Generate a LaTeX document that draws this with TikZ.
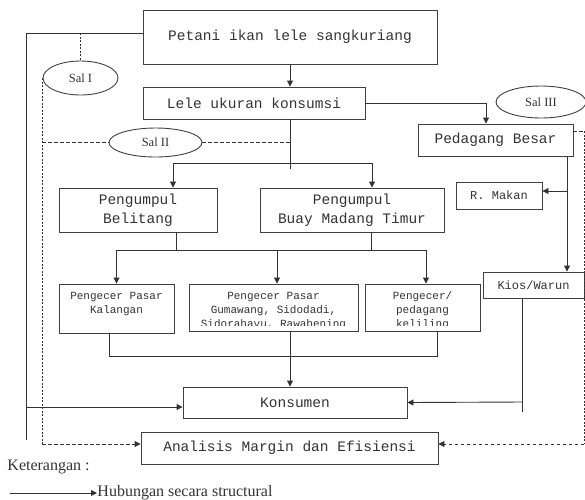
\documentclass[tikz,border=0pt]{standalone}
\usepackage{fontspec}
\setmainfont{Liberation Serif}
\setmonofont{Liberation Mono}
\usetikzlibrary{arrows.meta,shapes.geometric}

\begin{document}
\begin{tikzpicture}[x=1pt,y=-1pt,line width=0.9pt,color=black!80,
    box/.style={draw=black!75,rectangle,inner sep=0pt,font=\ttfamily\fontsize{14.5}{19}\selectfont,align=center},
    mid/.style={font=\ttfamily\fontsize{12}{14}\selectfont},
    small/.style={inner sep=0pt,font=\ttfamily\fontsize{11}{14}\selectfont,align=center,anchor=north},
    sal/.style={draw=black!75,ellipse,inner sep=0pt,font=\fontsize{12.5}{14}\selectfont},
    legend/.style={inner sep=0pt,font=\fontsize{16}{18}\selectfont,anchor=base west},
    arr/.style={-{Triangle[length=6pt,width=6pt]}},
    dashline/.style={dash pattern=on 3.5pt off 2.5pt},
    dotline/.style={dash pattern=on 2pt off 1.5pt}]
        \useasboundingbox (0,0) rectangle (585,499);

        \node[box,minimum width=294pt,minimum height=54pt] (petani) at (290,37) {Petani ikan lele sangkuriang};
        \node[box,minimum width=222pt,minimum height=32pt] (lele) at (254,103) {Lele ukuran konsumsi};
        \node[box,minimum width=155pt,minimum height=32pt] (besar) at (495.5,140) {Pedagang Besar};
        \node[box,mid,minimum width=86pt,minimum height=27pt] (makan) at (499,195.5) {R. Makan};
        \node[box,mid,minimum width=101pt,minimum height=26pt] (kios) at (533.5,285) {Kios/Warun};
        \node[box,minimum width=158pt,minimum height=44pt] (belitang) at (138,210) {Pengumpul\\Belitang};
        \node[box,minimum width=184pt,minimum height=44pt] (buay) at (352,210) {Pengumpul\\Buay Madang Timur};
        \node[box,minimum width=115pt,minimum height=49pt] (kalangan) at (116.5,308.5) {};
        \node[box,minimum width=169pt,minimum height=47pt] (gumawang) at (273.5,307.5) {};
        \node[box,minimum width=115pt,minimum height=47pt] (keliling) at (422.5,307.5) {};
        \node[box,minimum width=224pt,minimum height=31pt] (konsumen) at (295,402.5) {Konsumen};
        \node[box,minimum width=297pt,minimum height=32pt] (analisis) at (289.5,448) {Analisis Margin dan Efisiensi};

        % texts of the retail boxes
        \node[small] (kalangantext) at ([yshift=-8pt]kalangan.north) {Pengecer Pasar\\Kalangan};
        \begin{scope}
            \clip (gumawang.north west) rectangle ([yshift=6pt]gumawang.south east);
            \node[small] (gumawangtext) at ([yshift=-8pt]gumawang.north) {Pengecer Pasar\\Gumawang, Sidodadi,\\Sidorahayu, Rawabening};
        \end{scope}
        \begin{scope}
            \clip (keliling.north west) rectangle ([yshift=6pt]keliling.south east);
            \node[small] (kelilingtext) at ([yshift=-8pt]keliling.north) {Pengecer/\\pedagang\\keliling};
        \end{scope}

        % channels
        \node[sal,minimum width=75pt,minimum height=34pt] (salI) at (80.5,78) {Sal I};
        \node[sal,minimum width=93pt,minimum height=29pt] (salII) at (155.5,142.5) {Sal II};
        \node[sal,minimum width=90pt,minimum height=32pt] (salIII) at (541,102) {Sal III};

        \coordinate (lefttop) at (26,33);
        \coordinate (leftbot) at (26,440);
        \coordinate (leftk) at (26,407);
        \coordinate (dashbot) at (42,444);
        \coordinate (split1) at (290,163);
        \coordinate (split2) at (176,250);
        \coordinate (split3) at (371,250);
        \coordinate (join) at (109,356);
        \coordinate (split4) at (567,191);
        \coordinate (kiosdown) at (522,412);
        \coordinate (kiosk) at (522,402);
        \coordinate (rtop) at (584,131);
        \coordinate (rbot) at (584,444);

        % solid flows
        \draw[arr] (petani.south) -- (petani.south |- lele.north);
        \draw[arr] (lele.east) -| ([xshift=-9.5pt]besar.north);
        \draw (petani.west |- lefttop) -- (lefttop) -- (leftbot);
        \draw[arr] (leftk) -- (konsumen.west |- leftk);
        \draw (petani.south |- lele.south) -- ([yshift=-6pt]split1);
        \draw[arr] (split1) -| ([xshift=35pt]belitang.north);
        \draw[arr] (split1) -| ([xshift=20pt]buay.north);
        \draw ([xshift=38pt]belitang.south) -- (split2);
        \draw ([xshift=19pt]buay.south) -- (split3);
        \draw (split2) -- (split3);
        \draw[arr] (split2) -| (kalangan.north);
        \draw[arr] (split2) -| ([xshift=3.5pt]gumawang.north);
        \draw[arr] (split3) -| ([xshift=3.5pt]keliling.north);
        \draw ([xshift=-7.5pt]kalangan.south) -- (join) -| ([xshift=14.5pt]keliling.south);
        \draw[arr] (gumawang.south -| petani.south) -- (konsumen.north -| petani.south);
        \draw[arr] ([xshift=71.5pt]besar.south) -- ([xshift=71.5pt]besar.south |- kios.north);
        \draw[arr] (split4) -- (makan.east |- split4);
        \draw ([xshift=-11.5pt]kios.south) -- (kiosdown);
        \draw[arr] (kiosk) -- (konsumen.east);

        % dashed flows
        \draw[dotline] (salI.north |- lefttop) -- (salI.north);
        \draw[dotline] (salI.west) -- (salI.west |- dashbot);
        \draw[dashline,arr] (dashbot) -- (analisis.west |- dashbot);
        \draw[dashline] (salII.west -| dashbot) -- (salII.west);
        \draw[dashline] (salII.east) -- (salII.east -| petani.south);
        \draw[dashline] ([yshift=9pt]besar.east) -- (rtop);
        \draw[dotline] (rtop) -- (rbot);
        \draw[dashline,arr] (rbot) -- (analisis.east |- rbot);

        % legend
        \node[legend] (ket) at (7,470) {Keterangan :};
        \node[legend] (legtext) at (97,496) {Hubungan secara structural};
        \coordinate (legstart) at (10,493);
        \draw[arr] (legstart) -- (legtext.west |- legstart);
    \end{tikzpicture}
\end{document}
